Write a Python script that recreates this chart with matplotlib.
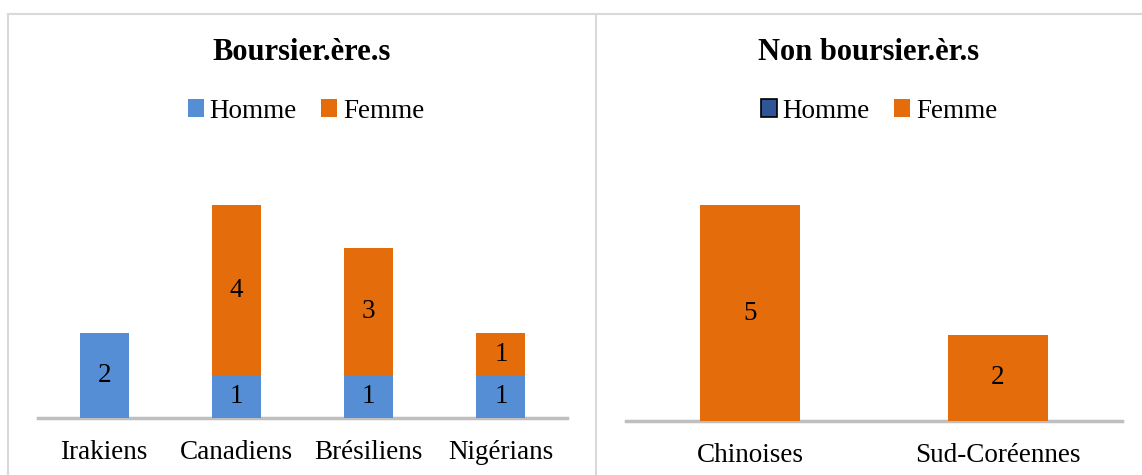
import matplotlib
matplotlib.use("Agg")
import matplotlib.pyplot as plt
from matplotlib.patches import Patch
from matplotlib.lines import Line2D

plt.rcParams['font.family'] = ['Liberation Serif', 'DejaVu Serif']

# Data
left_categories = ["Irakiens", "Canadiens", "Brésiliens", "Nigérians"]
left_homme = [2, 1, 1, 1]
left_femme = [0, 4, 3, 1]

right_categories = ["Chinoises", "Sud-Coréennes"]
right_homme = [0, 0]
right_femme = [5, 2]

title_left = "Boursier.ère.s"
title_right = "Non boursier.èr.s"
series_names = ["Homme", "Femme"]

blue = "#558ED5"
orange = "#E46C0A"
dark_blue = "#2F5597"
W, H = 1142, 475
FS = 19.5

fig = plt.figure(figsize=(W / 100, H / 100), dpi=100)

def fx(px):
    return px / W

def fy(py):
    return 1 - py / H

# Panel borders
border_col = "#D9D9D9"
for (x0, y0, x1, y1) in [(8, 14, 1142, 14), (8, 14, 8, 475), (596, 14, 596, 475)]:
    fig.add_artist(Line2D([fx(x0), fx(x1)], [fy(y0), fy(y1)], color=border_col, lw=1.5,
                          transform=fig.transFigure))

def draw(ax, cats, homme, femme, width):
    x = list(range(len(cats)))
    ax.bar(x, homme, width=width, color=blue, zorder=2)
    ax.bar(x, femme, width=width, bottom=homme, color=orange, zorder=2)
    for i in x:
        if homme[i]:
            ax.text(i, homme[i] / 2, str(homme[i]), ha="center", va="center", fontsize=FS, zorder=3)
        if femme[i]:
            ax.text(i, homme[i] + femme[i] / 2, str(femme[i]), ha="center", va="center", fontsize=FS, zorder=3)
    ax.set_xlim(-0.5, len(cats) - 0.5)
    ax.set_ylim(0, 6)
    ax.set_xticks(x)
    ax.set_xticklabels(cats, fontsize=FS)
    ax.tick_params(axis="x", length=0, pad=16)
    ax.set_yticks([])
    for s in ["top", "right", "left"]:
        ax.spines[s].set_visible(False)
    ax.spines["bottom"].set_color("#BFBFBF")
    ax.spines["bottom"].set_linewidth(2.5)
    ax.spines["bottom"].set_zorder(1)
    ax.patch.set_alpha(0)

axL = fig.add_axes([fx(38), fy(418), fx(567 - 38), 6 * 42.6 / H])
draw(axL, left_categories, left_homme, left_femme, 0.37)
axR = fig.add_axes([fx(626), fy(421), fx(1122 - 626), 6 * 43.2 / H])
draw(axR, right_categories, right_homme, right_femme, 0.40)

fig.text(fx(302), fy(52), title_left, ha="center", va="center", fontsize=22, fontweight="bold")
fig.text(fx(869), fy(52), title_right, ha="center", va="center", fontsize=22, fontweight="bold")

leg_kw = dict(ncol=2, frameon=False, fontsize=FS, handlelength=0.6, handleheight=0.6,
              handletextpad=0.2, columnspacing=0.9, loc="center")
hl = [Patch(facecolor=blue, label=series_names[0]), Patch(facecolor=orange, label=series_names[1])]
fig.legend(handles=hl, bbox_to_anchor=(fx(306), fy(111)), **leg_kw)
hr = [Patch(facecolor=dark_blue, edgecolor="black", linewidth=1.2, label=series_names[0]),
      Patch(facecolor=orange, label=series_names[1])]
fig.legend(handles=hr, bbox_to_anchor=(fx(879), fy(111)), **leg_kw)

fig.savefig("out.png", dpi=100)
